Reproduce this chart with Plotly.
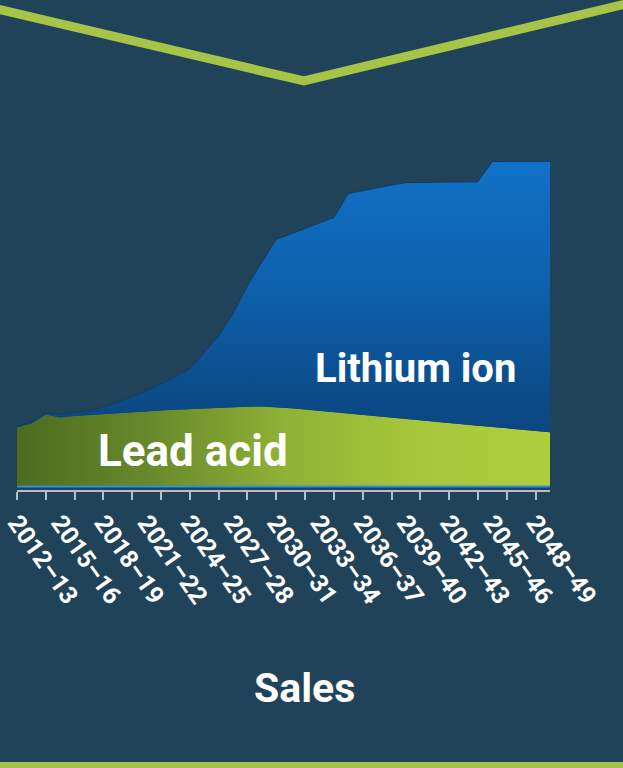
import plotly.graph_objects as go

# ---------------- data ----------------
years = ["2012–13", "2013–14", "2014–15", "2015–16", "2016–17", "2017–18", "2018–19",
         "2019–20", "2020–21", "2021–22", "2022–23", "2023–24", "2024–25", "2025–26",
         "2026–27", "2027–28", "2028–29", "2029–30", "2030–31", "2031–32", "2032–33",
         "2033–34", "2034–35", "2035–36", "2036–37", "2037–38", "2038–39", "2039–40",
         "2040–41", "2041–42", "2042–43", "2043–44", "2044–45", "2045–46", "2046–47",
         "2047–48", "2048–49", "2049–50"]

lead_acid = [59, 63, 72, 69, 70.5, 71.5, 72.2, 73.2, 74.2, 75.2, 76, 76.7, 77.4, 78.1,
             78.8, 79.4, 79.8, 80, 79.4, 78.3, 76.9, 75.5, 74.2, 72.8, 71.5, 70.2, 68.8,
             67.5, 66.2, 64.8, 63.5, 62.2, 60.8, 59.5, 58.2, 56.8, 55.5, 54.2]

lithium_ion = [1.5, 1.5, 1.8, 3.5, 3.7, 4.3, 7.0, 11.0, 15.6, 20.8, 26.5, 33.3, 40.1, 55.9,
               72.2, 93.6, 121.2, 144.5, 167.6, 174.2, 181.1, 188.0, 194.8, 220.2, 224.5,
               228.8, 232.7, 236.3, 238.0, 239.7, 241.0, 242.3, 244.0, 265.5, 266.8, 268.2,
               269.5, 271.0]

tick_mark_years = years[0:37:2]
tick_label_years = years[0:37:3]

# ---------------- layout helpers ----------------
W, H = 623, 768
ML, MR, MT, MB = 17, 73, 146, 278
PW, PH = W - ML - MR, H - MT - MB


def px(x):
    return (x - ML) / PW


def py(y):
    return (H - MB - y) / PH


BG = "#21435a"
GREEN_LINE = "#a6c447"
FONT = "Roboto"

fig = go.Figure()

fig.add_trace(go.Scatter(
    x=years, y=lead_acid, name="Lead acid", stackgroup="one", mode="lines",
    line=dict(width=0, color="#7a9a2e"),
    fillgradient=dict(type="horizontal",
                      colorscale=[[0, "#4c6b1f"], [0.25, "#68892a"], [0.5, "#8fb135"],
                                  [0.75, "#a6c73b"], [1, "#afce3e"]]),
    hoverinfo="skip", showlegend=False))

fig.add_trace(go.Scatter(
    x=years, y=lithium_ion, name="Lithium ion", stackgroup="one", mode="lines",
    line=dict(width=1, color="#173a58"),
    fillgradient=dict(type="vertical", start=0, stop=330,
                      colorscale=[[0, "#093f74"], [0.25, "#0b4a87"], [0.6, "#0e60ab"],
                                  [1, "#1172ca"]]),
    hoverinfo="skip", showlegend=False))

# helper trace for the label axis
fig.add_trace(go.Scatter(x=years, y=[0] * len(years), xaxis="x2", mode="lines",
                         line=dict(width=0), hoverinfo="skip", showlegend=False))

shapes = [
    # light-blue baseline
    dict(type="line", xref="paper", yref="y", x0=0, x1=1, y0=0, y1=0,
         line=dict(color="#2f8fe3", width=2), layer="above"),
    # top V decoration
    dict(type="path", xref="paper", yref="paper",
         path=f"M {px(-5)},{py(8.5)} L {px(304)},{py(81)} L {px(628)},{py(3.5)}",
         line=dict(color=GREEN_LINE, width=9), layer="above"),
    # bottom band
    dict(type="rect", xref="paper", yref="paper", x0=px(-5), x1=px(630),
         y0=py(762), y1=py(775), line=dict(width=0), fillcolor=GREEN_LINE, layer="above"),
]

annotations = [
    dict(text="Lithium ion", x=px(415), y=py(368), xref="paper", yref="paper",
         showarrow=False, xanchor="center", yanchor="middle",
         font=dict(family=FONT, size=40, color="white", weight="bold")),
    dict(text="Lead acid", x=px(193), y=py(451), xref="paper", yref="paper",
         showarrow=False, xanchor="center", yanchor="middle",
         font=dict(family=FONT, size=44, color="white", weight="bold")),
    dict(text="Sales", x=px(304), y=py(688), xref="paper", yref="paper",
         showarrow=False, xanchor="center", yanchor="middle",
         font=dict(family=FONT, size=41, color="white", weight="bold")),
]

fig.update_layout(
    width=W, height=H,
    margin=dict(l=ML, r=MR, t=MT, b=MB, pad=0, autoexpand=False),
    paper_bgcolor=BG, plot_bgcolor=BG,
    showlegend=False,
    xaxis=dict(type="category", categoryorder="array", categoryarray=years,
               range=[0, len(years) - 1], tickmode="array", tickvals=tick_mark_years,
               showticklabels=False, ticks="outside", ticklen=8, tickwidth=2,
               tickcolor="#b9bec3", showline=True, linecolor="#b9bec3", linewidth=2,
               showgrid=False, zeroline=False, fixedrange=True, automargin=False),
    xaxis2=dict(type="category", categoryorder="array", categoryarray=years,
                overlaying="x", anchor="y", side="bottom",
                range=[0, len(years) - 1], tickmode="array", tickvals=tick_label_years,
                ticktext=tick_label_years, ticks="", tickangle=55,
                tickfont=dict(family=FONT, size=25, color="white", weight="bold"),
                ticklabelstandoff=12, automargin=False,
                showline=False, showgrid=False, zeroline=False, fixedrange=True),
    yaxis=dict(range=[-3.5, 340.5], visible=False, showgrid=False, zeroline=False,
               fixedrange=True, automargin=False),
    shapes=shapes,
    annotations=annotations,
)

fig.write_html("out.html", config={"displayModeBar": False},
               post_script="document.body.style.margin='0';"
                           "document.body.style.background='" + BG + "';")
